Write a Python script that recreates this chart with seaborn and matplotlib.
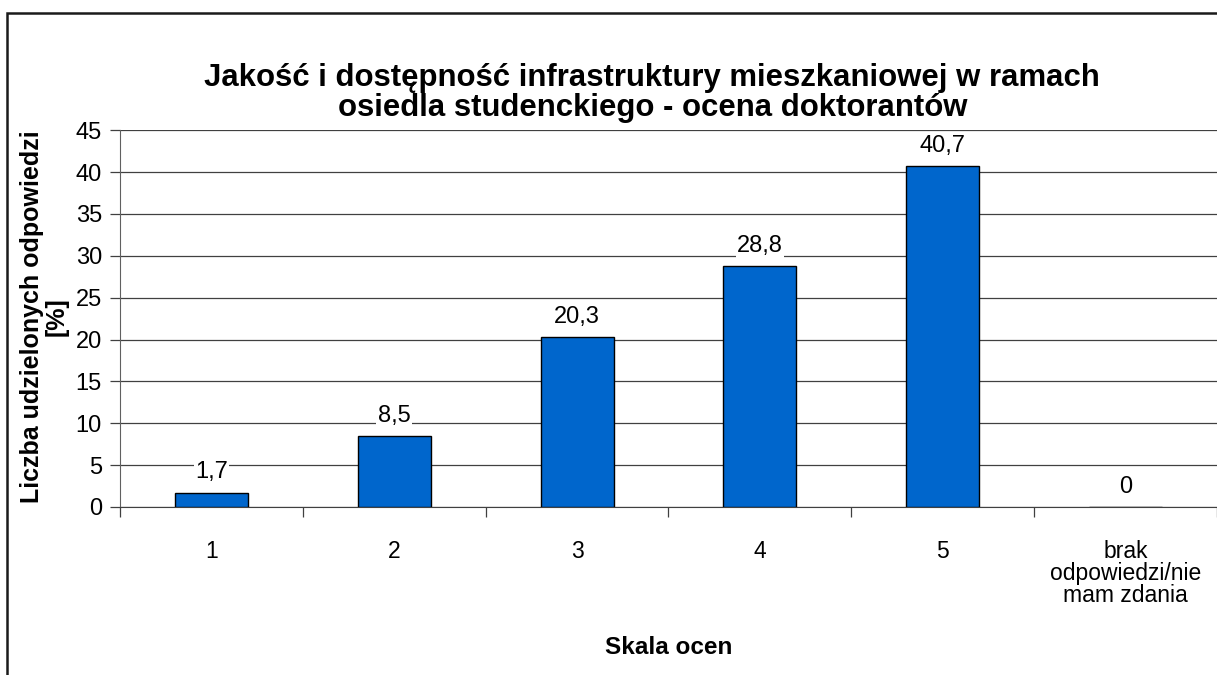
import matplotlib.pyplot as plt
import seaborn as sns
import pandas as pd
from matplotlib.patches import Rectangle

# dane z wykresu
kategorie = ['1', '2', '3', '4', '5', 'brak\nodpowiedzi/nie\nmam zdania']
wartosci = [1.7, 8.5, 20.3, 28.8, 40.7, 0]
etykiety = ['1,7', '8,5', '20,3', '28,8', '40,7', '0']

df = pd.DataFrame({'ocena': kategorie, 'procent': wartosci})

sns.set_style('white')
plt.rcParams['font.family'] = ['Liberation Sans', 'DejaVu Sans']
plt.rcParams['text.color'] = 'black'
plt.rcParams['axes.labelcolor'] = 'black'
plt.rcParams['xtick.color'] = 'black'
plt.rcParams['ytick.color'] = 'black'

fig = plt.figure(figsize=(12.17, 6.75), dpi=100)
ax = fig.add_axes([0.0986, 0.249, 0.9014, 0.558])

sns.barplot(x='ocena', y='procent', data=df, color='#0066CC', width=0.4,
            edgecolor='black', linewidth=1, saturation=1, ax=ax, zorder=3)

ax.set_ylim(0, 45)
ax.set_xlim(-0.5, 5.5)
ax.set_yticks(range(0, 46, 5))
ax.yaxis.grid(True, color='#404040', linewidth=0.9, zorder=0)
ax.set_axisbelow(True)

# etykiety wartosci nad slupkami
for i, (v, t) in enumerate(zip(wartosci, etykiety)):
    ax.text(i, v + 1.1, t, ha='center', va='bottom', fontsize=17,
            bbox=dict(facecolor='white', edgecolor='none', pad=1), zorder=4)

for s in ['top', 'right']:
    ax.spines[s].set_visible(False)
ax.spines['left'].set_color('#606060')
ax.spines['bottom'].set_color('#404040')

ax.tick_params(axis='y', labelsize=17, length=7, width=0.9, color='#404040',
               left=True, pad=6)
ax.tick_params(axis='x', which='major', labelsize=16.5, length=0, pad=24)
ax.set_xticks([i + 0.5 for i in range(-1, 6)], minor=True)
ax.tick_params(axis='x', which='minor', length=7, width=0.9, color='#404040', bottom=True)
for lab in ax.get_xticklabels():
    lab.set_linespacing(0.95)

ax.set_xlabel('Skala ocen', fontsize=17.5, fontweight='bold')
ax.xaxis.set_label_coords(0.5, -0.343)
ax.set_ylabel('Liczba udzielonych odpowiedzi\n[%]', fontsize=18,
              fontweight='bold', linespacing=1.0)
ax.yaxis.set_label_coords(-0.047, 0.505)

fig.suptitle('Jakość i dostępność infrastruktury mieszkaniowej w ramach\n'
             'osiedla studenckiego - ocena doktorantów',
             fontsize=22.4, fontweight='bold', x=0.536, y=0.907, linespacing=1.0)

# ramka wokol wykresu
fig.patches.append(Rectangle((0.0058, -0.05), 1.1, 1.0307, transform=fig.transFigure,
                             fill=False, edgecolor='#1a1a1a', linewidth=1.8))

fig.savefig('out.png', dpi=100)
